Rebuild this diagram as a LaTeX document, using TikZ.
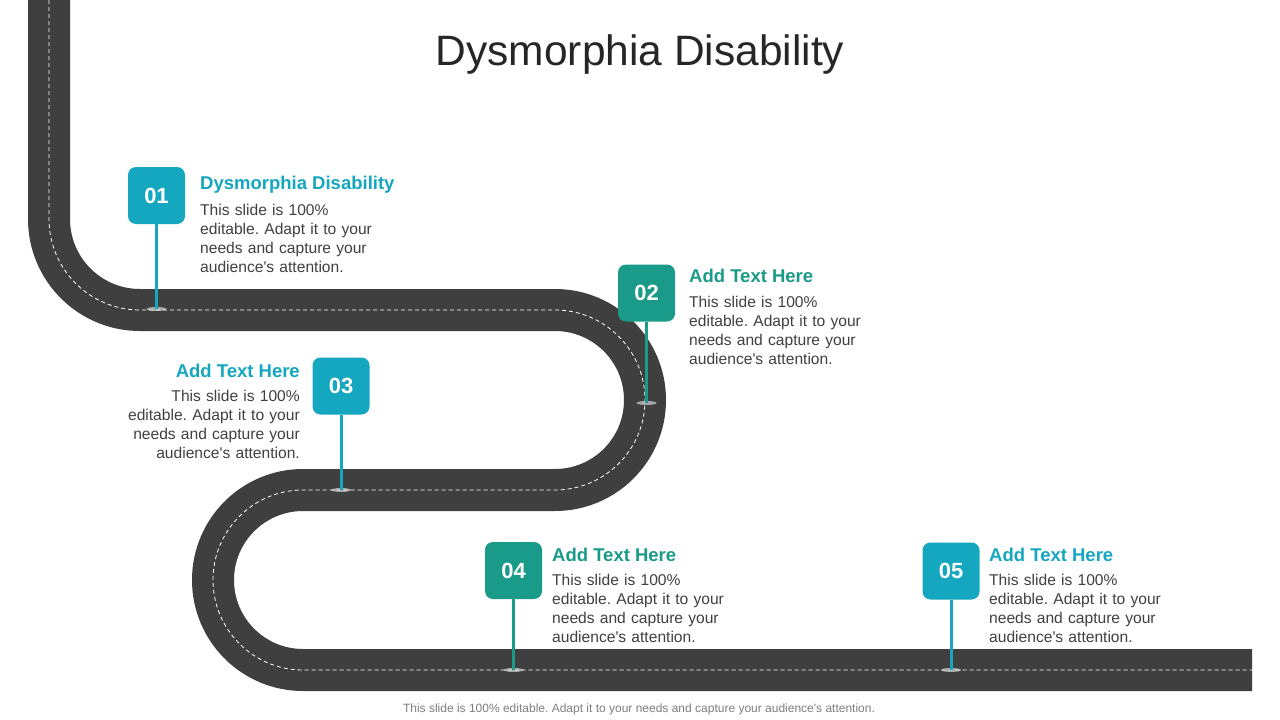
\documentclass[tikz,border=0pt]{standalone}
\usepackage{fontspec}
\setmainfont{Liberation Sans}
\frenchspacing
\definecolor{road}{HTML}{3F3F3F}
\definecolor{cy}{HTML}{15A7BF}
\definecolor{gr}{HTML}{1A9A88}
\definecolor{txt}{HTML}{404040}
\definecolor{ttl}{HTML}{262626}
\definecolor{foot}{HTML}{7F7F7F}
\newcommand{\bodytxt}{This slide is 100\%\\ editable. Adapt it to your\\ needs and capture your\\ audience\textquotesingle s attention.}
\begin{document}
\begin{tikzpicture}[x=1pt,y=1pt,
  marker/.style={rounded corners=8pt, minimum width=57pt, minimum height=57pt, inner sep=0pt, text=white, font=\bfseries\fontsize{22}{22}\selectfont},
  stem/.style={line width=3pt},
  glow/.style={fill=white, opacity=0.55},
  head/.style={font=\bfseries\fontsize{18.5}{22}\selectfont, inner sep=0pt},
  body/.style={font=\fontsize{15.6}{19}\selectfont, text=txt, inner sep=0pt, text width=190pt},
]
\useasboundingbox (0,0) rectangle (1280,-720);
\fill[white] (0,0) rectangle (1280,-720);
% road
\draw[road, line width=42pt, postaction={draw=white, line width=0.8pt, dash pattern=on 4pt off 3pt}]
  (49,0) -- (49,-219) arc[start angle=180, end angle=270, radius=91]
  -- (555,-310) arc[start angle=90, end angle=-90, radius=90]
  -- (303,-490) arc[start angle=90, end angle=270, radius=90]
  -- (1252,-670);
% title
\node[font=\fontsize{42.5}{50}\selectfont, text=ttl, anchor=base] (title) at (640,-65) {Dysmorphia Disability};
% markers
\node[marker, fill=cy] (m1) at (156.5,-195.5) {01};
\coordinate (p1) at (156.5,-309);
\node[marker, fill=gr] (m2) at (646.5,-293) {02};
\coordinate (p2) at (646.5,-403);
\node[marker, fill=cy] (m3) at (341,-386) {03};
\coordinate (p3) at (341,-490);
\node[marker, fill=gr] (m4) at (513.5,-570.5) {04};
\coordinate (p4) at (513.5,-670);
\node[marker, fill=cy] (m5) at (951,-571) {05};
\coordinate (p5) at (951,-670);
\foreach \i in {1,...,5} {\fill[glow] (p\i) ellipse (10pt and 2pt);}
\draw[stem, cy] (m1.south) -- (p1);
\draw[stem, gr] (m2.south) -- (p2);
\draw[stem, cy] (m3.south) -- (p3);
\draw[stem, gr] (m4.south) -- (p4);
\draw[stem, cy] (m5.south) -- (p5);
% texts
\node[head, text=cy, anchor=base west] (h1) at (200,-189) {Dysmorphia Disability};
\node[body, align=left, anchor=base west] (b1) at (200,-215) {\bodytxt};
\node[head, text=gr, anchor=base west] (h2) at (689,-282) {Add Text Here};
\node[body, align=left, anchor=base west] (b2) at (689,-307) {\bodytxt};
\node[head, text=cy, anchor=base east] (h3) at (300,-377) {Add Text Here};
\node[body, align=right, anchor=base east] (b3) at (300,-401) {\bodytxt};
\node[head, text=gr, anchor=base west] (h4) at (552,-561) {Add Text Here};
\node[body, align=left, anchor=base west] (b4) at (552,-585) {\bodytxt};
\node[head, text=cy, anchor=base west] (h5) at (989,-561) {Add Text Here};
\node[body, align=left, anchor=base west] (b5) at (989,-585) {\bodytxt};
% footer
\node[font=\fontsize{12}{14}\selectfont, text=foot, anchor=base] (foot) at (639,-712) {This slide is 100\% editable. Adapt it to your needs and capture your audience\textquotesingle s attention.};
\end{tikzpicture}
\end{document}
